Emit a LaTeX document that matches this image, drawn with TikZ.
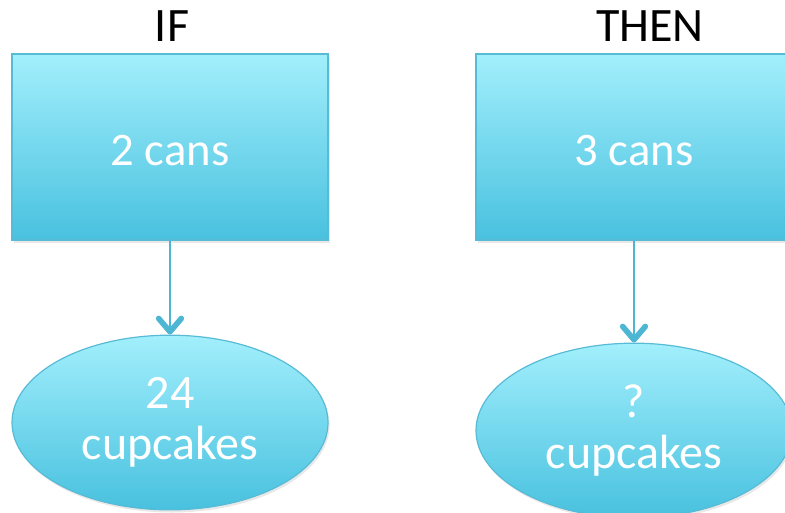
\documentclass[tikz,border=0pt]{standalone}
\usepackage{fontspec}
\setmainfont{Carlito}
\usetikzlibrary{arrows.meta,shapes.geometric,shadows}

\definecolor{fillTop}{HTML}{A2EFFC}
\definecolor{fillBot}{HTML}{48C1DF}
\definecolor{edgeBlue}{HTML}{58BBD6}
\definecolor{linkBlue}{HTML}{4DB7D3}

\tikzset{
  softshadow/.style={drop shadow={opacity=0.18, shadow xshift=1.2pt, shadow yshift=-2pt}},
  quantbox/.style={rectangle, draw=edgeBlue, line width=0.9pt,
    top color=fillTop, bottom color=fillBot,
    minimum width=237pt, minimum height=139.5pt, inner sep=0pt,
    text=white, font=\fontsize{35}{38}\selectfont, softshadow},
  quantoval/.style={ellipse, draw=edgeBlue, line width=0.9pt,
    top color=fillTop, bottom color=fillBot,
    minimum width=237pt, minimum height=131pt, inner sep=0pt,
    text=white, align=center, font=\fontsize{36}{38}\selectfont, softshadow},
  heading/.style={anchor=base, text=black, font=\fontsize{36}{40}\selectfont, inner sep=0pt},
  link/.style={draw=linkBlue, line width=1.6pt,
    -{Straight Barb[length=10pt, width=17pt, line width=4.2pt, round]}},
}

\begin{document}
\begin{tikzpicture}[x=0.75pt, y=-0.75pt]
  \useasboundingbox (0,0) rectangle (785,512);
  \clip (0,0) rectangle (785,512);

  % column headings
  \node[heading] (ifhead)   at (172,41) {IF};
  \node[heading] (thenhead) at (650,41) {THEN};

  % known ratio
  \node[quantbox]  (cansA) at (170,147) {\raisebox{-2.5pt}[\height][\depth]{2 cans}};
  \node[quantoval] (cakesA) at (170,422.5) {24\\cupcakes};

  % unknown ratio
  \node[quantbox]  (cansB) at (634,147) {\raisebox{-2.5pt}[\height][\depth]{3 cans}};
  \node[quantoval] (cakesB) at (634,430.5) {?\\cupcakes};

  \draw[link] (cansA.south) -- (cakesA.north);
  \draw[link] (cansB.south) -- (cakesB.north);
\end{tikzpicture}
\end{document}
